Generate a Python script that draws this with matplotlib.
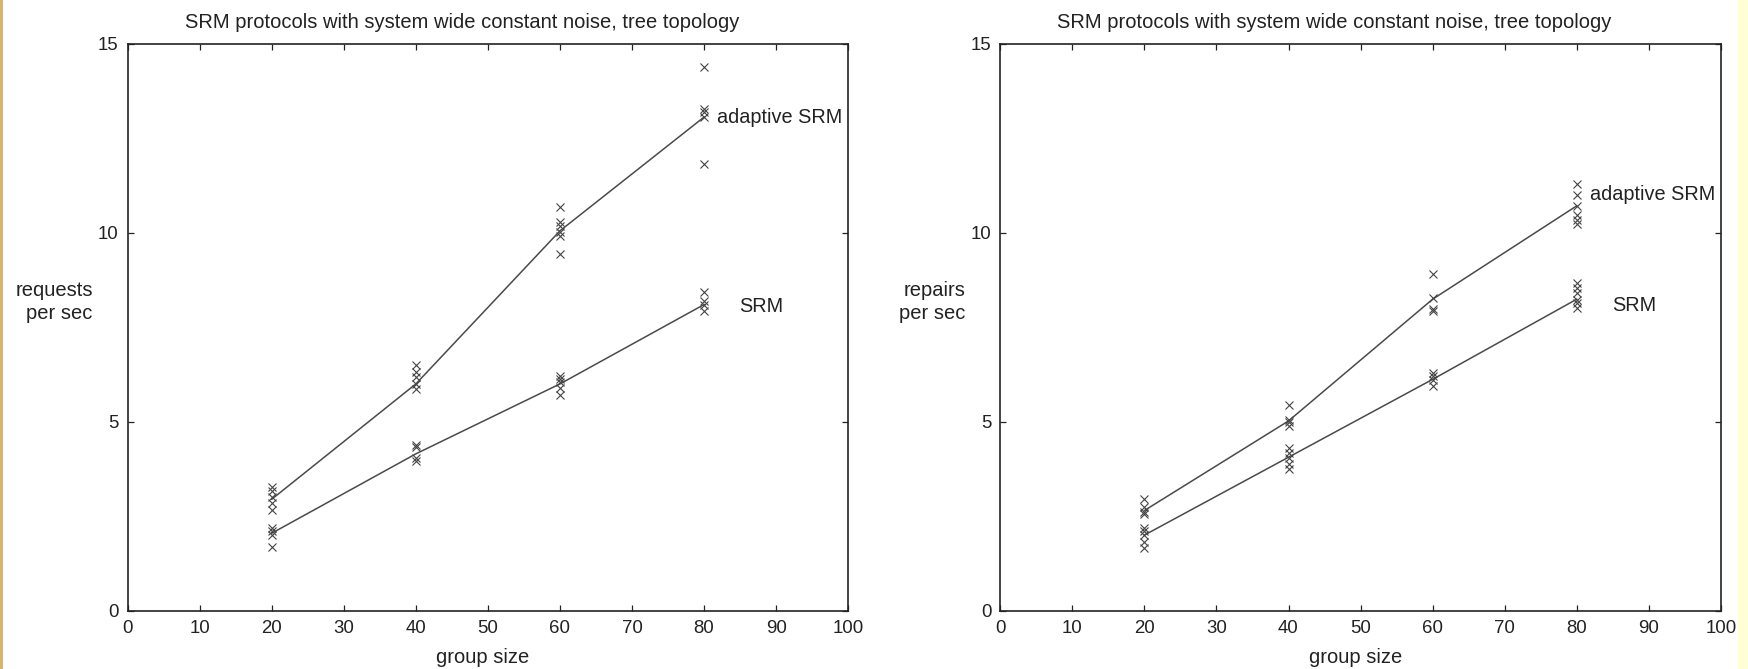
import matplotlib
matplotlib.use("Agg")
import matplotlib.pyplot as plt
from matplotlib.patches import Rectangle

plt.rcParams['font.family'] = ['Liberation Sans', 'DejaVu Sans']

group_sizes = [20, 40, 60, 80]

# Left panel: requests per sec
req_adaptive_line = [2.95, 6.0, 10.05, 13.06]
req_srm_line = [2.05, 4.15, 6.0, 8.1]
req_adaptive_pts = {
    20: [3.28, 3.16, 3.01, 2.86, 2.67],
    40: [6.49, 6.32, 6.17, 6.0, 5.87],
    60: [10.67, 10.29, 10.18, 10.01, 9.9, 9.43],
    80: [14.38, 13.28, 13.18, 13.06, 11.82],
}
req_srm_pts = {
    20: [2.2, 2.11, 2.0, 1.69],
    40: [4.39, 4.33, 4.03, 3.97],
    60: [6.2, 6.12, 6.05, 5.9, 5.71],
    80: [8.42, 8.19, 8.08, 7.94],
}

# Right panel: repairs per sec
rep_adaptive_line = [2.65, 5.02, 8.24, 10.71]
rep_srm_line = [2.0, 4.06, 6.12, 8.24]
rep_adaptive_pts = {
    20: [2.95, 2.74, 2.62, 2.56],
    40: [5.43, 5.04, 4.98, 4.88],
    60: [8.9, 8.26, 7.98, 7.92],
    80: [11.29, 11.0, 10.71, 10.47, 10.33, 10.24],
}
rep_srm_pts = {
    20: [2.18, 2.11, 2.0, 1.83, 1.65],
    40: [4.3, 4.18, 4.03, 3.87, 3.75],
    60: [6.3, 6.2, 6.09, 5.95],
    80: [8.66, 8.53, 8.4, 8.22, 8.13, 8.0],
}

title = "SRM protocols with system wide constant noise, tree topology"
xlabel = "group size"
ylabels = ["requests\nper sec", "repairs\nper sec"]
xticks = [0, 10, 20, 30, 40, 50, 60, 70, 80, 90, 100]
yticks = [0, 5, 10, 15]

label_pos = {
    0: [(81.8, 13.05, "adaptive SRM"), (84.9, 8.04, "SRM")],
    1: [(81.86, 11.02, "adaptive SRM"), (84.96, 8.07, "SRM")],
}

W, H = 1748, 669
fig = plt.figure(figsize=(W / 100, H / 100), dpi=100)
fig.patch.set_facecolor('white')
fig.patches.append(Rectangle((0, 0), 3 / W, 1, transform=fig.transFigure,
                             facecolor='#D9B56C', edgecolor='none'))
fig.patches.append(Rectangle((1738 / W, 0), 10 / W, 1, transform=fig.transFigure,
                             facecolor='#FFFFD6', edgecolor='none'))

ax_lefts = [127.7 / W, 1000.3 / W]
ax_w = 720.5 / W
ax_b = (H - 610.7) / H
ax_h = 567.0 / H

panels = [
    (req_adaptive_line, req_srm_line, req_adaptive_pts, req_srm_pts),
    (rep_adaptive_line, rep_srm_line, rep_adaptive_pts, rep_srm_pts),
]

line_col = '#4a4a4a'
for i, (al, sl, ap, sp) in enumerate(panels):
    ax = fig.add_axes([ax_lefts[i], ax_b, ax_w, ax_h])
    ax.plot(group_sizes, al, color=line_col, lw=1.1)
    ax.plot(group_sizes, sl, color=line_col, lw=1.1)
    for pts in (ap, sp):
        for gx, vals in pts.items():
            ax.plot([gx] * len(vals), vals, linestyle='none', marker='x',
                    markersize=5.3, markeredgewidth=0.8, color='#444444')
    ax.set_xlim(0, 100)
    ax.set_ylim(0, 15)
    ax.set_xticks(xticks)
    ax.set_yticks(yticks)
    ax.tick_params(direction='in', length=4.5, width=0.9, top=True, right=True,
                   labelsize=13.4, colors='#222222')
    ax.tick_params(axis='x', pad=6.5)
    ax.tick_params(axis='y', pad=6.5)
    for s in ax.spines.values():
        s.set_linewidth(1.2)
        s.set_color('#222222')
    ax.text(0.4636, 1.038, title, transform=ax.transAxes, ha='center',
            va='center', fontsize=14.5, color='#222222')
    ax.text(0.493, -0.0834, xlabel, transform=ax.transAxes, ha='center',
            va='center', fontsize=14.5, color='#222222')
    ax.text(-0.0486, 0.5446, ylabels[i], transform=ax.transAxes, ha='right',
            va='center', multialignment='right', fontsize=14.5,
            linespacing=1.25, color='#222222')
    for (lx, ly, txt) in label_pos[i]:
        ax.text(lx, ly, txt, ha='left', va='center', fontsize=14.3,
                color='#222222')

fig.savefig('out.png', dpi=100)
